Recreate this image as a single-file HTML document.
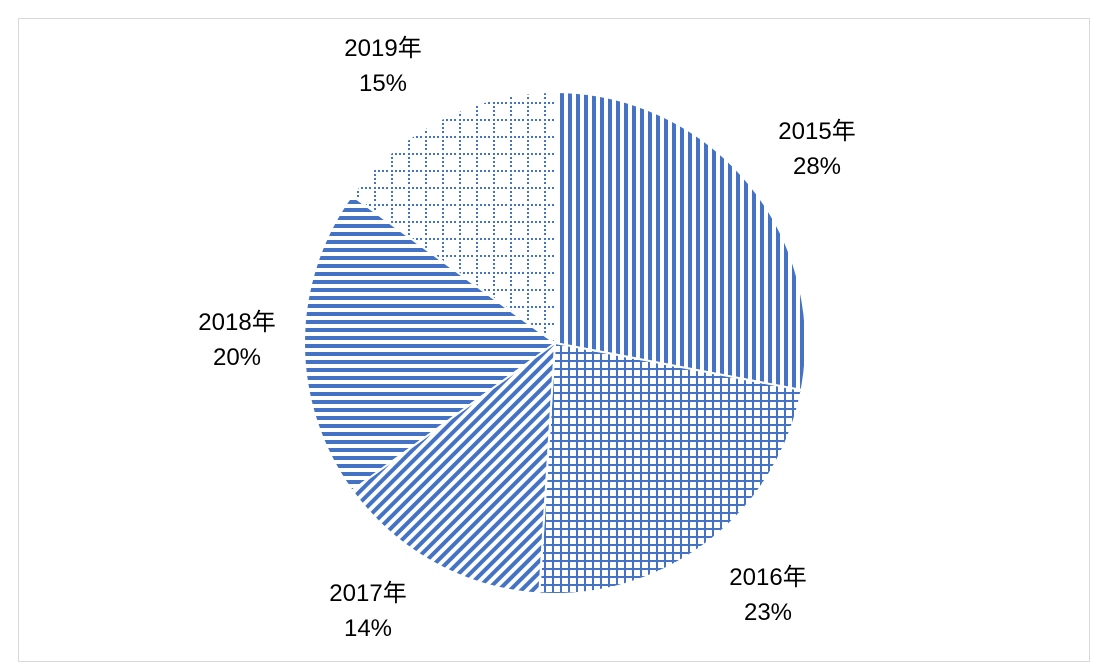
<!DOCTYPE html>
<html><head><meta charset="utf-8"><style>
body{margin:0;background:#fff;}
svg{display:block;font-family:"Liberation Sans","Noto Sans CJK SC",sans-serif;}
</style></head><body>
<svg width="1103" height="670">
<defs>
<pattern id="p0" width="8" height="8" patternUnits="userSpaceOnUse"><rect x="0" y="0" width="4" height="8" fill="#4472C4"/></pattern>
<pattern id="p1" width="8" height="8" patternUnits="userSpaceOnUse"><rect x="0" y="0" width="2" height="8" fill="#4472C4"/><rect x="0" y="0" width="8" height="2" fill="#4472C4"/></pattern>
<pattern id="p2" width="8" height="8" patternUnits="userSpaceOnUse" patternTransform="rotate(45)"><rect x="0" y="0" width="4" height="8" fill="#4472C4"/></pattern>
<pattern id="p3" width="8" height="8" patternUnits="userSpaceOnUse"><rect x="0" y="0" width="8" height="4" fill="#4472C4"/></pattern>
<pattern id="p4" width="17" height="17" patternUnits="userSpaceOnUse"><g fill="#4472C4"><rect x="0" y="0" width="2" height="2"/><rect x="4" y="0" width="2" height="2"/><rect x="8" y="0" width="2" height="2"/><rect x="12" y="0" width="2" height="2"/><rect x="0" y="4" width="2" height="2"/><rect x="0" y="8" width="2" height="2"/><rect x="0" y="12" width="2" height="2"/></g></pattern>
</defs>
<rect x="18.5" y="18.5" width="1071" height="643" fill="#fff" stroke="#d9d9d9"/>
<g id="slices"></g>
<g id="labels" font-size="24" fill="#000"></g>
</svg>
<script>
const categories=["2015年","2016年","2017年","2018年","2019年"];
const values=[28,23,14,20,15];
const cx=555,cy=343,r=251;
const fills=["url(#p0)","url(#p1)","url(#p2)","url(#p3)","url(#p4)"];
const labelPos=[[817,131],[768,577],[368,593],[237,322],[383,48]];
const total=values.reduce((a,b)=>a+b,0);
const ns="http://www.w3.org/2000/svg";
const gs=document.getElementById('slices'),gl=document.getElementById('labels');
let a=-Math.PI/2;
values.forEach((v,i)=>{
  const a2=a+v/total*2*Math.PI;
  const x1=cx+r*Math.cos(a),y1=cy+r*Math.sin(a),x2=cx+r*Math.cos(a2),y2=cy+r*Math.sin(a2);
  const p=document.createElementNS(ns,'path');
  p.setAttribute('d',`M${cx},${cy}L${x1},${y1}A${r},${r} 0 ${a2-a>Math.PI?1:0} 1 ${x2},${y2}Z`);
  p.setAttribute('fill',fills[i]);
  p.setAttribute('stroke','#fff');p.setAttribute('stroke-width','2');
  
  
  gs.appendChild(p);
  const t=document.createElementNS(ns,'text');
  t.setAttribute('text-anchor','middle');
  
  
  const s1=document.createElementNS(ns,'tspan');s1.setAttribute('x',labelPos[i][0]);s1.setAttribute('y',labelPos[i][1]+8);s1.textContent=categories[i];
  const s2=document.createElementNS(ns,'tspan');s2.setAttribute('x',labelPos[i][0]);s2.setAttribute('y',labelPos[i][1]+43);s2.textContent=v+'%';
  t.appendChild(s1);t.appendChild(s2);gl.appendChild(t);
  a=a2;
});
</script>
</body></html>
